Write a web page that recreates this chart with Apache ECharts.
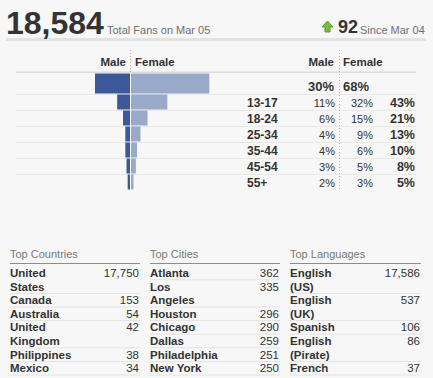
<!DOCTYPE html>
<html>
<head>
<meta charset="utf-8">
<script src="https://cdn.jsdelivr.net/npm/echarts@6/dist/echarts.min.js"></script>
<style>
html, body { margin: 0; padding: 0; background: #f7f7f7; }
#main { width: 433px; height: 378px; }
</style>
</head>
<body>
<div id="main"></div>
<script>
// header numbers
var totalFans = '18,584';
var totalLabel = 'Total Fans on Mar 05';
var fanChange = '92';
var changeLabel = 'Since Mar 04';

// gender / age split
var sexNames = ['Male', 'Female'];
var sexTotals = [30, 68];
var ageGroups = ['13-17', '18-24', '25-34', '35-44', '45-54', '55+'];
var malePct = [11, 6, 4, 4, 3, 2];
var femalePct = [32, 15, 9, 6, 5, 3];
var agePct = [43, 21, 13, 10, 8, 5];

// bottom tables
var countries = ['United\nStates', 'Canada', 'Australia', 'United\nKingdom', 'Philippines', 'Mexico'];
var countryFans = ['17,750', '153', '54', '42', '38', '34'];
var cities = ['Atlanta', 'Los\nAngeles', 'Houston', 'Chicago', 'Dallas', 'Philadelphia', 'New York'];
var cityFans = ['362', '335', '296', '290', '259', '251', '250'];
var languages = ['English\n(US)', 'English\n(UK)', 'Spanish', 'English\n(Pirate)', 'French'];
var languageFans = ['17,586', '537', '106', '86', '37'];

var FONT = 'Tahoma, "Liberation Sans", Arial, sans-serif';
var DARK = '#333';
var GREY = '#6f6f6f';
var MALE = '#3b5998';
var FEMALE = '#98a9c9';

var chart = echarts.init(document.getElementById('main'), null, {renderer: 'svg'});

function txt(x, y, s, size, weight, color, align, valign, lh) {
    return {
        type: 'text', x: x, y: y, z: 10,
        style: {
            text: s, fontFamily: FONT, fontSize: size, fontWeight: weight,
            fill: color, align: align || 'left', verticalAlign: valign || 'middle',
            lineHeight: lh
        }
    };
}
function rect(x, y, w, h, color) {
    return {type: 'rect', z: 0, shape: {x: x, y: y, width: w, height: h}, style: {fill: color}};
}

var g = [];
// header
g.push(txt(6, 23, totalFans, 32, 'bold', DARK));
g.push(txt(107, 30, totalLabel, 11, 'normal', GREY));
g.push({
    type: 'polygon', z: 10,
    shape: {points: [[322, 27], [327.5, 21], [333, 27], [330, 27], [330, 32], [325, 32], [325, 27]]},
    style: {fill: '#76bd3f', stroke: '#5c9a2c', lineWidth: 1}
});
g.push(txt(338, 27, fanChange, 18, 'bold', DARK));
g.push(txt(360, 30, changeLabel, 11, 'normal', GREY));
g.push(rect(6, 38, 420, 3, '#e2e2e2'));

// gender header
g.push(txt(126, 62, sexNames[0], 11.5, 'bold', DARK, 'right'));
g.push(txt(135, 62, sexNames[1], 11.5, 'bold', DARK, 'left'));
g.push(txt(334, 62, sexNames[0], 11.5, 'bold', DARK, 'right'));
g.push(txt(343, 62, sexNames[1], 11.5, 'bold', DARK, 'left'));
g.push(rect(16, 71.5, 400, 1.5, '#dcdcdc'));
g.push({type: 'line', z: 1, shape: {x1: 130.5, y1: 50, x2: 130.5, y2: 72},
    style: {stroke: '#b8b8b8', lineWidth: 1, lineDash: [1, 2]}});
g.push({type: 'line', z: 1, shape: {x1: 339.5, y1: 50, x2: 339.5, y2: 190},
    style: {stroke: '#b8b8b8', lineWidth: 1, lineDash: [1, 2]}});

// totals row
g.push(txt(334, 86, sexTotals[0] + '%', 13, 'bold', DARK, 'right'));
g.push(txt(343, 86, sexTotals[1] + '%', 13, 'bold', DARK, 'left'));

// age rows
ageGroups.forEach(function (a, i) {
    var y = 94 + 16 * i;
    g.push(rect(16, y, 400, 1, '#e8e8e8'));
    var cy = y + 8.5;
    g.push(txt(247, cy, a, 12, 'bold', DARK, 'left'));
    g.push(txt(335, cy, malePct[i] + '%', 11, 'normal', DARK, 'right'));
    g.push(txt(373, cy, femalePct[i] + '%', 11, 'normal', DARK, 'right'));
    g.push(txt(415, cy, agePct[i] + '%', 12.5, 'bold', DARK, 'right'));
});

// bottom tables
function table(x0, x1, title, labels, values) {
    g.push(txt(x0, 254, title, 11, 'normal', '#777'));
    g.push(rect(x0, 263, x1 - x0, 1, '#8c8c8c'));
    var top = 266.2, lh = 13.6, k = 0;
    labels.forEach(function (lab, i) {
        var y = top + lh * k;
        g.push(txt(x0, y, lab, 11.5, 'bold', DARK, 'left', 'top', lh));
        g.push(txt(x1 - 1, y, values[i], 11.5, 'normal', DARK, 'right', 'top', lh));
        k += lab.split('\n').length;
        g.push(rect(x0, top + lh * k - 0.5, x1 - x0, 1, '#e4e4e4'));
    });
}
table(10, 140, 'Top Countries', countries, countryFans);
table(150, 280, 'Top Cities', cities, cityFans);
table(290, 421, 'Top Languages', languages, languageFans);

function neg(arr) { return arr.map(function (v) { return -v; }); }

var valueAxis = {type: 'value', min: -40, max: 80, show: false};
var catAxis = {
    type: 'category', inverse: true, z: 5,
    axisLine: {show: true, onZero: true, lineStyle: {color: '#fff', width: 1}},
    axisTick: {show: false}, axisLabel: {show: false}, splitLine: {show: false}
};

var option = {
    backgroundColor: '#f7f7f7',
    animation: false,
    grid: [
        {left: 83.33, width: 140, top: 73, height: 21},
        {left: 83.33, width: 140, top: 94, height: 96}
    ],
    xAxis: [
        Object.assign({gridIndex: 0}, valueAxis),
        Object.assign({gridIndex: 1}, valueAxis)
    ],
    yAxis: [
        Object.assign({gridIndex: 0, data: ['All']}, catAxis),
        Object.assign({gridIndex: 1, data: ageGroups}, catAxis)
    ],
    series: [
        {type: 'bar', name: 'Male', xAxisIndex: 0, yAxisIndex: 0, stack: 'all', barWidth: 20,
            itemStyle: {color: MALE}, data: [-sexTotals[0]]},
        {type: 'bar', name: 'Female', xAxisIndex: 0, yAxisIndex: 0, stack: 'all', barWidth: 20,
            itemStyle: {color: FEMALE}, data: [sexTotals[1]]},
        {type: 'bar', name: 'Male', xAxisIndex: 1, yAxisIndex: 1, stack: 'age', barWidth: 15,
            itemStyle: {color: MALE}, data: neg(malePct)},
        {type: 'bar', name: 'Female', xAxisIndex: 1, yAxisIndex: 1, stack: 'age', barWidth: 15,
            itemStyle: {color: FEMALE}, data: femalePct}
    ],
    graphic: g
};
chart.setOption(option);
window.addEventListener('resize', function () { chart.resize(); });
</script>
</body>
</html>
